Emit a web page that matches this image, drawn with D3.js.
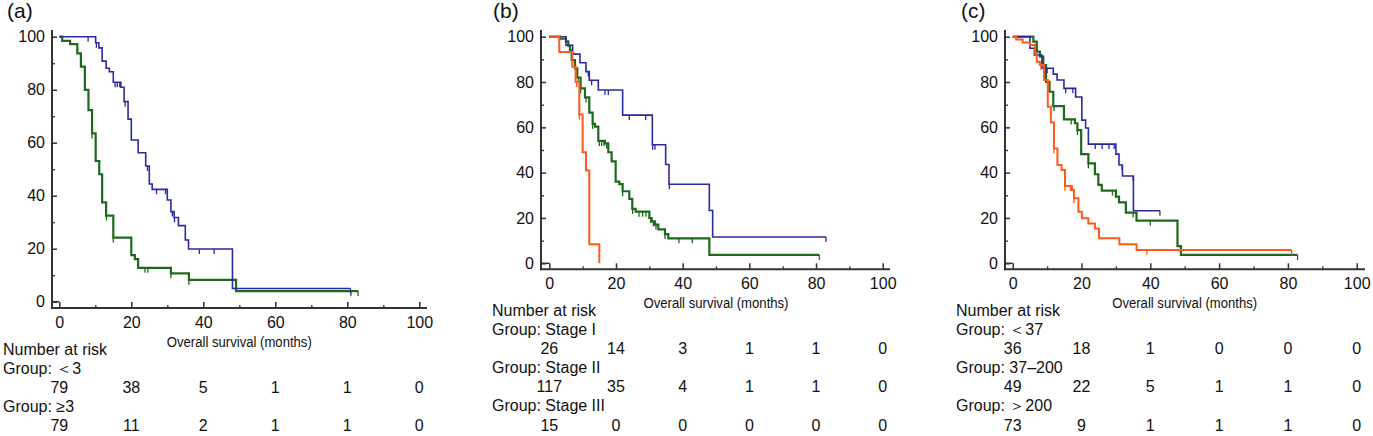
<!DOCTYPE html>
<html>
<head>
<meta charset="utf-8">
<script src="https://cdn.jsdelivr.net/npm/d3@7"></script>
<style>
  body { margin: 0; background: #fff; }
  svg { display: block; font-family: "Liberation Sans", Arial, sans-serif; }
</style>
</head>
<body>
<svg id="chart" width="1373" height="436"></svg>
<script>
// ---- data (months, % surviving) ----
const riskTimes = [0, 20, 40, 60, 80, 100];
const xTicks = [0, 20, 40, 60, 80, 100];
const yTicks = [0, 20, 40, 60, 80, 100];

// (a) groups <3 and >=3
const aLowT = [10.1, 11.0, 11.9, 13.0, 13.9, 15.0, 17.1, 18.0, 19.1, 20.0, 21.9, 24.0, 25.0, 25.8, 30.0, 31.0, 31.9, 33.1, 35.0, 35.9, 48.1];
const aLowS = [97.7, 95.8, 90.8, 88.1, 86.8, 82.8, 80.9, 75.5, 68.9, 61.0, 56.2, 51.2, 44.4, 42.4, 38.4, 34.0, 31.8, 28.7, 23.3, 19.9, 5.0];
const aLowC = [8.0, 10.3, 15.5, 16.1, 16.8, 18.3, 24.5, 27.0, 29.5, 31.4, 32.0, 38.9, 43.0, 80.9];
const aHighT = [0.8, 3.0, 5.0, 6.0, 7.1, 8.1, 9.1, 10.1, 11.1, 11.9, 13.0, 15.0, 20.0, 21.0, 21.9, 31.0, 36.0, 49.1];
const aHighS = [98.4, 97.2, 93.7, 88.7, 79.9, 72.3, 63.5, 53.1, 48.1, 37.5, 32.5, 24.2, 17.6, 16.1, 12.8, 10.7, 8.2, 4.0];
const aHighC = [9.1, 13.1, 15.0, 23.8, 24.6, 31.0, 36.0, 81.0, 83.0];
const aRiskLow = [79, 38, 5, 1, 1, 0];
const aRiskHigh = [79, 11, 2, 1, 1, 0];

// (b) stage I / II / III
const bIT = [5.0, 7.0, 9.2, 11.0, 12.0, 14.7, 22.0, 30.9, 34.9, 35.9, 48.0, 49.0];
const bIS = [96.2, 92.3, 88.5, 84.6, 80.8, 76.5, 65.4, 52.3, 43.6, 34.9, 23.3, 11.6];
const bIC = [11.7, 12.7, 16.7, 17.7, 24.0, 28.9, 31.0, 31.7, 36.0, 83.0];
const bIIT = [3.2, 5.0, 5.7, 6.2, 6.7, 7.7, 8.4, 9.4, 10.7, 12.0, 13.0, 13.7, 14.7, 16.7, 17.7, 18.7, 19.9, 21.0, 22.0, 24.0, 24.9, 25.9, 30.0, 30.7, 31.7, 32.7, 34.7, 35.7, 48.0];
const bIIS = [99.1, 98.0, 96.0, 94.0, 89.7, 86.0, 82.0, 77.2, 73.2, 66.5, 61.5, 60.3, 54.0, 52.9, 49.0, 45.0, 36.0, 34.9, 31.8, 28.4, 24.0, 22.8, 20.0, 18.5, 17.1, 15.0, 12.9, 11.0, 3.7];
const bIIC = [8.7, 9.4, 11.0, 13.0, 15.0, 15.7, 16.4, 17.2, 22.0, 25.0, 26.9, 28.0, 29.0, 30.4, 31.2, 32.0, 34.7, 38.9, 42.9, 81.0];
const bIIIT = [3.0, 6.9, 7.9, 9.0, 10.0, 11.0, 12.0, 15.0];
const bIIIS = [93.3, 86.7, 80.0, 65.7, 49.0, 41.0, 8.4, 0];
const bIIIC = [8.2, 9.0];
const bRiskI = [26, 14, 3, 1, 1, 0];
const bRiskII = [117, 35, 4, 1, 1, 0];
const bRiskIII = [15, 0, 0, 0, 0, 0];

// (c) groups <37 / 37-200 / >200
const cLowT = [5.0, 6.3, 8.5, 11.8, 12.9, 14.9, 18.3, 20.1, 21.2, 22.0, 30.0, 30.9, 31.9, 35.1];
const cLowS = [94.9, 91.9, 86.1, 83.5, 80.9, 77.2, 73.4, 63.2, 59.7, 52.6, 48.2, 43.4, 38.5, 23.2];
const cLowC = [10.0, 15.4, 17.5, 24.0, 26.0, 28.0, 29.5, 31.8, 35.0, 42.8];
const cMidT = [6.0, 7.0, 7.9, 8.9, 9.7, 10.7, 11.8, 14.9, 18.1, 18.8, 19.9, 22.0, 23.9, 24.9, 25.9, 30.0, 30.9, 32.9, 36.0, 47.9, 48.9];
const cMidS = [97.8, 93.4, 91.2, 87.5, 80.1, 75.7, 69.4, 63.5, 61.8, 58.8, 48.2, 44.1, 39.3, 34.6, 32.1, 29.4, 26.9, 22.4, 18.8, 7.6, 3.7];
const cMidC = [8.8, 12.0, 17.0, 18.8, 22.0, 29.0, 30.8, 35.0, 40.0, 82.8];
const cHighT = [1.0, 2.9, 5.0, 6.5, 7.0, 7.9, 9.1, 10.2, 11.1, 12.0, 13.0, 14.2, 15.2, 17.2, 17.8, 19.1, 20.1, 22.0, 23.9, 25.1, 31.0, 36.0];
const cHighS = [98.8, 97.4, 96.3, 92.6, 89.0, 87.5, 80.9, 69.1, 62.1, 50.7, 43.4, 41.2, 34.1, 32.4, 28.7, 22.8, 19.9, 17.6, 15.4, 11.0, 8.4, 5.9];
const cHighC = [8.2, 12.0, 15.2, 16.8, 17.8, 25.0, 39.0, 81.1];
const cRiskLow = [36, 18, 1, 0, 0, 0];
const cRiskMid = [49, 22, 5, 1, 1, 0];
const cRiskHigh = [73, 9, 1, 1, 1, 0];

const BLUE = '#2a2aa2', GREEN = '#1d6a1d', ORANGE = '#ff5a1e';

// ---- layout ----
const panels = [
  { title: '(a)', titleX: 7, axisX: 52, axisY: 308, xr: [59.3, 419.3], yr: [301.7, 36.7], xEnd: 427,
    curves: [
      { t: aHighT, s: aHighS, c: aHighC, color: GREEN, w: 2.2 },
      { t: aLowT, s: aLowS, c: aLowC, color: BLUE, w: 1.6 }
    ],
    groups: [['Group: ＜3', aRiskLow], ['Group: ≥3', aRiskHigh]] },
  { title: '(b)', titleX: 493, axisX: 541, axisY: 269.3, xr: [549.3, 882.7], yr: [263.3, 36.7], xEnd: 890,
    curves: [
      { t: bIIT, s: bIIS, c: bIIC, color: GREEN, w: 2.2 },
      { t: bIT, s: bIS, c: bIC, color: BLUE, w: 1.6 },
      { t: bIIIT, s: bIIIS, c: bIIIC, color: ORANGE, w: 2 }
    ],
    groups: [['Group: Stage I', bRiskI], ['Group: Stage II', bRiskII], ['Group: Stage III', bRiskIII]] },
  { title: '(c)', titleX: 961, axisX: 1005, axisY: 269.3, xr: [1012.7, 1356.7], yr: [263.3, 36.7], xEnd: 1365,
    curves: [
      { t: cMidT, s: cMidS, c: cMidC, color: GREEN, w: 2.2 },
      { t: cLowT, s: cLowS, c: cLowC, color: BLUE, w: 1.6 },
      { t: cHighT, s: cHighS, c: cHighC, color: ORANGE, w: 2 }
    ],
    groups: [['Group: ＜37', cRiskLow], ['Group: 37–200', cRiskMid], ['Group: ＞200', cRiskHigh]] }
];

const svg = d3.select('#chart');
const AXIS = '#333';
const TXT = '#111';

function survAt(curve, time) {
  const i = d3.bisectRight(curve.t, time);
  return i === 0 ? 100 : curve.s[i - 1];
}

panels.forEach(p => {
  const x = d3.scaleLinear().domain([0, 100]).range(p.xr);
  const y = d3.scaleLinear().domain([0, 100]).range(p.yr);
  const g = svg.append('g');

  g.append('text').attr('x', p.titleX).attr('y', 18)
    .attr('font-size', 21).attr('fill', TXT).text(p.title);

  // minor ticks
  const minor = d3.range(10, 100, 20);
  g.append('g').attr('transform', `translate(${p.axisX},0)`)
    .call(d3.axisLeft(y).tickValues(minor).tickSizeInner(-3).tickSizeOuter(0).tickFormat(''))
    .call(s => s.select('.domain').remove())
    .call(s => s.selectAll('line').attr('stroke', AXIS).attr('stroke-width', 1.3));
  g.append('g').attr('transform', `translate(0,${p.axisY})`)
    .call(d3.axisBottom(x).tickValues(minor).tickSizeInner(-3).tickSizeOuter(0).tickFormat(''))
    .call(s => s.select('.domain').remove())
    .call(s => s.selectAll('line').attr('stroke', AXIS).attr('stroke-width', 1.3));

  // major ticks with labels
  g.append('g').attr('transform', `translate(${p.axisX},0)`)
    .call(d3.axisLeft(y).tickValues(yTicks).tickSizeInner(-5).tickSizeOuter(0).tickPadding(7))
    .call(s => s.select('.domain').remove())
    .call(s => s.selectAll('line').attr('stroke', AXIS).attr('stroke-width', 1.5))
    .call(s => s.selectAll('text').attr('font-size', 16).attr('fill', TXT)
      .attr('font-family', '"Liberation Sans", Arial, sans-serif'));
  g.append('g').attr('transform', `translate(0,${p.axisY})`)
    .call(d3.axisBottom(x).tickValues(xTicks).tickSizeInner(-6).tickSizeOuter(0).tickPadding(8.5))
    .call(s => s.select('.domain').remove())
    .call(s => s.selectAll('line').attr('stroke', AXIS).attr('stroke-width', 1.5))
    .call(s => s.selectAll('text').attr('font-size', 16).attr('fill', TXT)
      .attr('font-family', '"Liberation Sans", Arial, sans-serif'));

  // small origin tick for y = 0 reaching the x = 0 line
  g.append('line').attr('x1', p.axisX).attr('x2', x(0)).attr('y1', y(0)).attr('y2', y(0))
    .attr('stroke', AXIS).attr('stroke-width', 1.5);

  // axis lines
  g.append('line').attr('x1', p.axisX).attr('x2', p.axisX).attr('y1', 30).attr('y2', p.axisY + 1)
    .attr('stroke', AXIS).attr('stroke-width', 2);
  g.append('line').attr('x1', p.axisX - 1).attr('x2', p.xEnd).attr('y1', p.axisY).attr('y2', p.axisY)
    .attr('stroke', AXIS).attr('stroke-width', 2);

  // x-axis title
  g.append('text').attr('x', (p.xr[0] + p.xr[1]) / 2).attr('y', p.axisY + 34).attr('dy', '0.35em')
    .attr('text-anchor', 'middle').attr('font-size', 14).attr('fill', TXT)
    .attr('textLength', 145).attr('lengthAdjust', 'spacingAndGlyphs')
    .text('Overall survival (months)');

  // KM curves
  const line = d3.line().x(d => x(d[0])).y(d => y(d[1])).curve(d3.curveStepAfter);
  p.curves.forEach(cv => {
    const pts = [[0, 100]].concat(cv.t.map((t, i) => [t, cv.s[i]]));
    const end = Math.max(d3.max(cv.t), d3.max(cv.c));
    pts.push([end, cv.s[cv.s.length - 1]]);
    g.append('path').attr('d', line(pts)).attr('fill', 'none')
      .attr('stroke', cv.color).attr('stroke-width', cv.w);
    g.selectAll(null).data(cv.c).enter().append('line')
      .attr('x1', d => x(d)).attr('x2', d => x(d))
      .attr('y1', d => y(survAt(cv, d))).attr('y2', d => y(survAt(cv, d)) + 5)
      .attr('stroke', cv.color).attr('stroke-width', 1.3);
  });

  // number at risk table
  const tx = p.axisX - 49;
  let ry = p.axisY + 41;
  const step = 19.1;
  g.append('text').attr('x', tx).attr('y', ry).attr('dy', '0.35em')
    .attr('font-size', 16).attr('fill', TXT).text('Number at risk');
  p.groups.forEach(([name, counts]) => {
    ry += step;
    g.append('text').attr('x', tx).attr('y', ry).attr('dy', '0.35em')
      .attr('font-size', 16).attr('fill', TXT).text(name);
    ry += step;
    const rowY = ry;
    g.selectAll(null).data(counts).enter().append('text')
      .attr('x', (d, i) => x(riskTimes[i])).attr('y', rowY).attr('dy', '0.35em')
      .attr('text-anchor', 'middle').attr('font-size', 16).attr('fill', TXT)
      .text(d => d);
  });
});
</script>
</body>
</html>
